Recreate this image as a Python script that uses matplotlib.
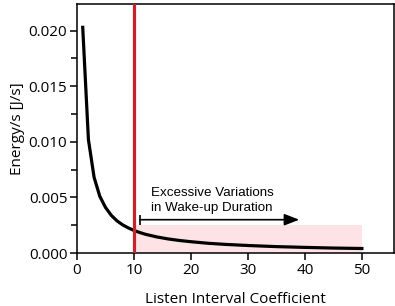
import matplotlib.pyplot as plt
from matplotlib.ticker import MultipleLocator

# listen interval coefficient vs energy per second
coef = [1, 2, 3, 4, 5, 6, 7, 8, 9, 10, 11, 12, 14, 16, 18, 20, 23, 26, 30, 35, 40, 45, 50]
energy = [0.0203, 0.0102, 0.0068, 0.0051, 0.0041, 0.0034, 0.0029, 0.00254, 0.00226, 0.00203,
          0.00185, 0.00169, 0.00145, 0.00127, 0.00113, 0.00102, 0.00088, 0.00078, 0.00068,
          0.00058, 0.00051, 0.00045, 0.00041]

limit_coef = 10
band_end = 50
band_top = 0.0025
arrow_from, arrow_to, arrow_y = 11, 39, 0.0030
note = "Excessive Variations\nin Wake-up Duration"

plt.rcParams['font.family'] = ['Open Sans', 'DejaVu Sans']

fig = plt.figure(figsize=(3.95, 3.06), dpi=100)
ax = fig.add_axes([0.195, 0.173, 0.802, 0.814])

ax.axvspan(limit_coef, band_end, ymin=0, ymax=band_top / 0.0224, color='#fde3e6', lw=0, zorder=1)
ax.plot(coef, energy, color='black', lw=2.3, zorder=3)
ax.axvline(limit_coef, color='#c4252c', lw=2.3, zorder=4)

ax.annotate('', xy=(arrow_to, arrow_y), xytext=(arrow_from, arrow_y),
            arrowprops=dict(arrowstyle='-|>,head_length=0.9,head_width=0.35',
                            color='black', lw=1.2, shrinkA=0, shrinkB=0), zorder=5)
ax.plot([arrow_from], [arrow_y], marker='|', ms=7, mew=1.2, color='black', zorder=5)
ax.text(13, 0.0035, note, family=['Liberation Sans', 'DejaVu Sans'], fontsize=9.6,
        va='bottom', ha='left', linespacing=1.3)

ax.set_xlim(0, 55.6)
ax.set_ylim(0, 0.0224)
ax.xaxis.set_major_locator(MultipleLocator(10))
ax.yaxis.set_major_locator(MultipleLocator(0.005))
ax.yaxis.set_minor_locator(MultipleLocator(0.0025))
ax.yaxis.set_major_formatter(plt.FuncFormatter(lambda v, p: f"{v:.3f}"))
ax.tick_params(direction='out', length=5, width=1.1, labelsize=11, pad=2)
ax.tick_params(which='minor', direction='out', length=4, width=1.1)
for s in ax.spines.values():
    s.set_linewidth(1.1)

ax.set_xlabel('Listen Interval Coefficient', fontsize=11, labelpad=10)
ax.set_ylabel('Energy/s [J/s]', fontsize=11, labelpad=3)

fig.savefig('out.png', dpi=100)
